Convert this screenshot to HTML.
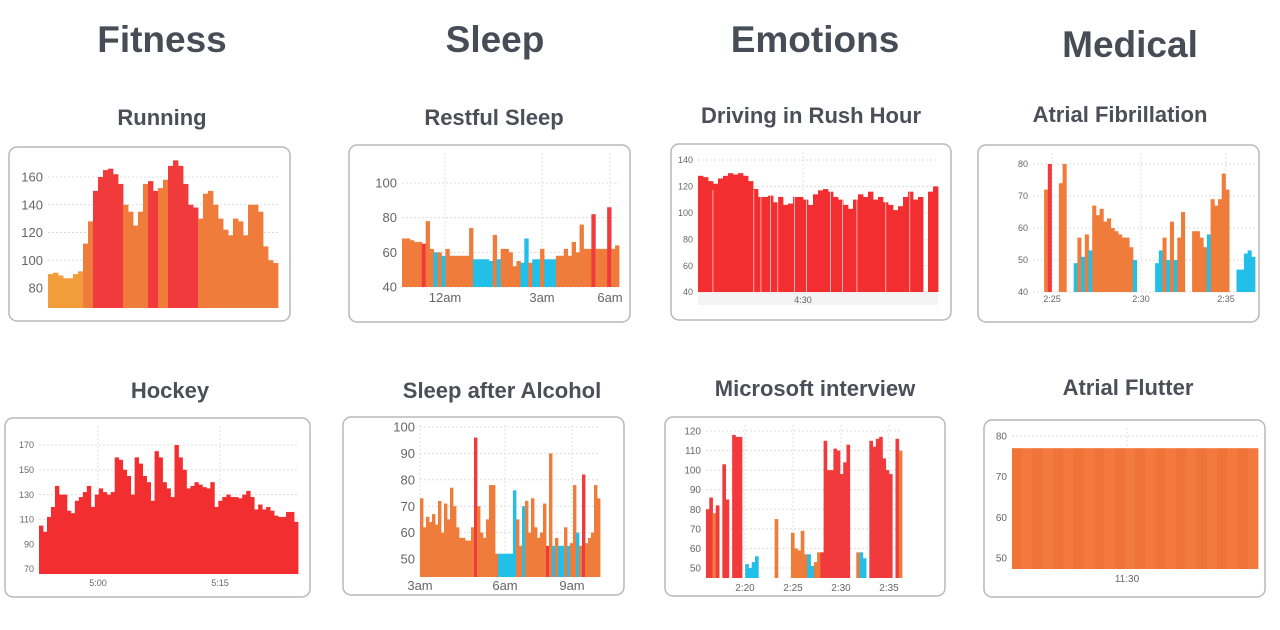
<!DOCTYPE html>
<html><head><meta charset="utf-8"><style>
html,body{margin:0;padding:0;background:#fff;width:1280px;height:630px;overflow:hidden}
svg{display:block}
text{font-family:"Liberation Sans",sans-serif}
</style></head><body>
<svg id="s" width="1280" height="630" viewBox="0 0 1280 630"></svg>
<script>
const runningValues=[90,91,89,87,87,90,92,112,128,150,160,165,166,162,155,140,135,125,135,155,157,150,152,158,168,172,168,155,140,138,130,148,150,140,130,122,118,130,128,118,140,140,135,110,100,98];
const runningColors="yyyyyyyoorrrrrrooooorroorrrrrrooooooooooooooooo";
const sleepValues=[68,68,67,66,66,65,78,62,60,60,58,62,58,58,58,58,58,74,56,56,56,56,55,70,56,62,62,60,52,55,54,68,54,56,56,62,56,56,56,58,58,62,58,66,60,76,62,62,82,62,62,62,86,62,64];
const sleepColors="oooooroobobooooooobbbbbobooooobbobbobbboooooooooroooroo";
const rushValues=[128,127,124,122,126,128,130,129,130,128,124,118,112,112,113,108,112,106,107,112,112,110,106,114,117,118,116,112,110,106,103,110,114,112,116,110,112,108,106,102,105,112,116,110,112,0,116,120];
const afibValues=[0,0,0,72,80,0,0,74,80,0,0,49,57,51,58,53,67,64,66,62,63,60,59,58,57,57,54,50,0,0,0,0,0,49,53,57,50,62,50,57,65,0,0,59,59,57,54,58,69,67,69,77,72,0,0,47,47,52,53,51];
const afibColors="ooooroooooobobobooooooooooobbbbbbbbobobooooooooboooooobbbbbb";
const hockeyValues=[105,100,112,120,137,130,130,117,115,125,128,132,137,120,130,135,132,130,132,160,158,150,145,130,160,155,145,140,125,165,160,140,135,128,170,160,150,135,137,140,138,136,135,140,120,125,128,130,128,128,127,130,133,128,118,122,118,120,117,113,112,112,116,116,108];
const alcoholValues=[73,62,66,64,67,63,72,60,71,65,77,70,62,58,58,57,57,62,96,70,60,58,65,78,78,52,52,52,52,52,52,76,65,55,70,72,60,73,62,58,60,71,55,90,55,58,55,55,62,55,56,78,60,55,82,56,58,60,78,73];
const alcoholColors="oooooooooooooooooorooooooobbbbbboobooooooorobobbobooboroooooo";
const msValues=[80,86,78,82,0,103,85,0,118,117,117,0,52,50,53,56,0,0,0,0,0,75,0,0,0,0,68,60,59,69,57,57,51,53,58,58,115,100,100,111,110,98,104,113,0,0,58,58,55,0,115,112,116,117,106,100,98,0,116,110];
const msColors="rrorrrrrrrrrbbbbooooooooooooooobboorrrrrrrrrroobbrrrrrrrrrr";
const flutterValues=[77];
const runTicks=[80,100,120,140,160], sleepTicks=[40,60,80,100], rushTicks=[40,60,80,100,120,140], afibTicks=[40,50,60,70,80], hockeyTicks=[70,90,110,130,150,170], alcTicks=[50,60,70,80,90,100], msTicks=[50,60,70,80,90,100,110,120], flTicks=[50,60,70,80];
const sleepX=["12am","3am","6am"], rushX=["4:30"], afibX=["2:25","2:30","2:35"], hockeyX=["5:00","5:15"], alcX=["3am","6am","9am"], msX=["2:20","2:25","2:30","2:35"], flX=["11:30"];

const NS="http://www.w3.org/2000/svg", S=document.getElementById('s');
const COL={r:"#f13a3c",o:"#f07c3c",y:"#f29c3a",b:"#22bfe8"};
function mk(tag,attrs,parent){const e=document.createElementNS(NS,tag);for(const k in attrs)e.setAttribute(k,attrs[k]);(parent||S).appendChild(e);return e;}
function txt(x,y,s,size,anchor,fill,weight,name){const t=mk('text',{x:x,y:y,'font-size':size,'text-anchor':anchor,fill:fill,'font-weight':weight});t.textContent=s;


return t;}

[["Fitness",162,52],["Sleep",495,52],["Emotions",815,52],["Medical",1130,57]].forEach(h=>{txt(h[1],h[2],h[0],37,'middle','#474d57','bold','category-heading');});

function chart(c){
  const g=mk('g',{});
  
  
  txt(c.tx,c.ty,c.title,22,'middle','#4a4f58','bold','chart-title');
  const box=mk('rect',{x:c.box[0],y:c.box[1],width:c.box[2],height:c.box[3],rx:8,fill:'#fff',stroke:'#b8b8b8','stroke-width':1.5},g);
  
  
  const ys=v=>c.y1-(v-c.v1)*(c.y1-c.y2)/(c.v2-c.v1);
  if(c.strip){mk('rect',{x:c.x0,y:c.bot,width:c.x1-c.x0,height:13,fill:'#f3f3f3'},g);}
  c.ticks.forEach(t=>{
    mk('line',{x1:c.x0,x2:c.x1,y1:ys(t),y2:ys(t),stroke:'#ddd','stroke-dasharray':'2,2'},g);
    txt(c.x0-5,ys(t)+c.fs*0.35,String(t),c.fs,'end','#666','normal','y-tick-label');
  });
  (c.xl||[]).forEach((l,i)=>{
    const x=c.xpos[i];
    mk('line',{x1:x,x2:x,y1:c.box[1]+8,y2:c.bot,stroke:'#e2e2e2','stroke-dasharray':'2,2'},g);
    txt(x,c.xly,l,c.fs,'middle','#666','normal','x-tick-label');
  });
  const n=c.vals.length, w=(c.x1-c.x0)/n;
  c.vals.forEach((v,i)=>{
    if(!v)return;
    const y=ys(v), col=c.cols?COL[c.cols[i]]||COL.o:c.color;
    const r=mk('rect',{x:(c.x0+i*w).toFixed(2),y:y.toFixed(2),width:(w+0.4).toFixed(2),height:(c.bot-y).toFixed(2),fill:col},g);
    
    
  });
  if(c.whites){c.whites.forEach(f=>{mk('rect',{x:c.x0+f*(c.x1-c.x0),y:c.y2+30,width:1,height:c.bot-c.y2-30,fill:'#fff',opacity:0.6},g);});}
  if(c.stripes){for(let i=0;i<12;i++){mk('rect',{x:c.x0+i*(c.x1-c.x0)/12,y:ys(c.vals[0]),width:(c.x1-c.x0)/24,height:c.bot-ys(c.vals[0]),fill:'#ee6a2a',opacity:0.35},g);}}
}
chart({name:'running-chart',title:'Running',tx:162,ty:125,box:[9,147,281,174],x0:48,x1:278,y1:288,y2:177,v1:80,v2:160,bot:308,ticks:runTicks,fs:13,vals:runningValues,cols:runningColors,xl:[],xpos:[]});
chart({name:'restful-sleep-chart',title:'Restful Sleep',tx:494,ty:125,box:[349,145,281,177],x0:402,x1:619,y1:287,y2:183,v1:40,v2:100,bot:287,ticks:sleepTicks,fs:13,vals:sleepValues,cols:sleepColors,xl:sleepX,xpos:[445,542,610],xly:302});
chart({name:'rush-hour-chart',title:'Driving in Rush Hour',tx:811,ty:123,box:[671,144,280,176],x0:698,x1:938,y1:292,y2:160,v1:40,v2:140,bot:292,ticks:rushTicks,fs:9,vals:rushValues,color:'#f22e30',xl:rushX,xpos:[803],xly:303,strip:true,whites:[0.06,0.23,0.26,0.3,0.33,0.4,0.45,0.55,0.6,0.66,0.78,0.88]});
chart({name:'atrial-fibrillation-chart',title:'Atrial Fibrillation',tx:1120,ty:122,box:[978,145,281,177],x0:1033,x1:1255,y1:292,y2:164,v1:40,v2:80,bot:292,ticks:afibTicks,fs:9,vals:afibValues,cols:afibColors,xl:afibX,xpos:[1052,1141,1226],xly:302});
chart({name:'hockey-chart',title:'Hockey',tx:170,ty:398,box:[5,418,305,179],x0:39,x1:298,y1:569,y2:445,v1:70,v2:170,bot:574,ticks:hockeyTicks,fs:9,vals:hockeyValues,color:'#f22e30',xl:hockeyX,xpos:[98,220],xly:586});
chart({name:'sleep-after-alcohol-chart',title:'Sleep after Alcohol',tx:502,ty:398,box:[343,417,281,178],x0:420,x1:600,y1:559,y2:427,v1:50,v2:100,bot:577,ticks:alcTicks,fs:13,vals:alcoholValues,cols:alcoholColors,xl:alcX,xpos:[420,505,572],xly:590});
chart({name:'microsoft-interview-chart',title:'Microsoft interview',tx:815,ty:396,box:[665,417,280,179],x0:706,x1:902,y1:568,y2:431,v1:50,v2:120,bot:578,ticks:msTicks,fs:10,vals:msValues,cols:msColors,xl:msX,xpos:[745,793,841,889],xly:591});
chart({name:'atrial-flutter-chart',title:'Atrial Flutter',tx:1128,ty:395,box:[984,420,281,177],x0:1012,x1:1258,y1:558,y2:436,v1:50,v2:80,bot:569,ticks:flTicks,fs:10,vals:flutterValues,color:'#f27a3e',stripes:true,xl:flX,xpos:[1127],xly:582});
</script>
</body></html>
